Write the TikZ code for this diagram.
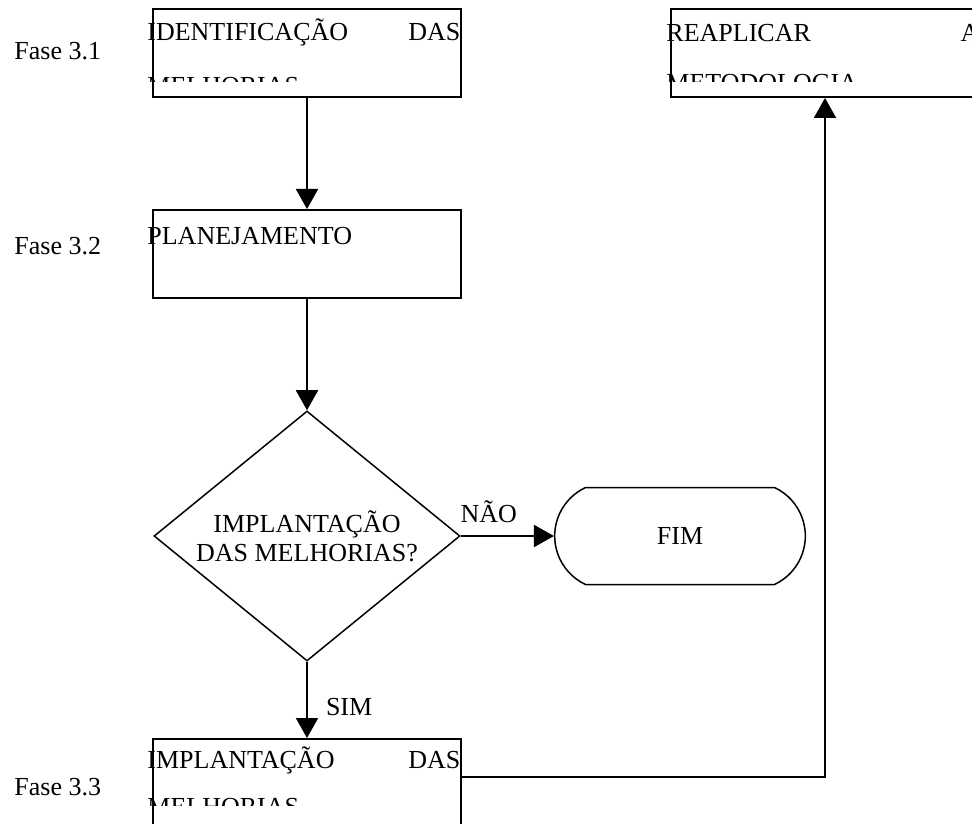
\documentclass[tikz,border=0pt]{standalone}
\usepackage{fontspec}
\setmainfont{Liberation Serif}
\usetikzlibrary{shapes.geometric,shapes.misc,arrows.meta}

\begin{document}
\begin{tikzpicture}[x=0.5pt,y=-0.5pt,
    font=\fontsize{13}{14.5}\selectfont,
    box/.style={draw,line width=1pt,minimum width=154pt,minimum height=44pt,inner sep=0pt},
    txt/.style={anchor=base west,inner sep=0pt},
    flow/.style={line width=1pt,-{Triangle[length=10pt,width=11pt]}}]
  \clip (0,0) rectangle (972,823);

  \node[box] (ident) at (307,53) {};
  \node[box] (plan) at (307,254) {};
  \node[diamond,draw,line width=0.75pt,shape aspect=1.22,minimum width=153pt,minimum height=125pt,
        inner sep=0pt,align=center] (dec) at (307,536) {IMPLANTAÇÃO\\DAS MELHORIAS?};
  \node[rounded rectangle,rounded rectangle arc length=130,draw,line width=0.75pt,
        minimum width=132pt,minimum height=48.5pt] (fim) at (680,536) {FIM};
  \node[box] (impl) at (307,783) {};
  \node[box] (reap) at (825,53) {};

  \begin{scope}
    \clip (140,0) rectangle (470,82);
    \node[txt] (identa) at (147,41) {\makebox[156.5pt][l]{IDENTIFICAÇÃO\hfill DAS}};
    \node[txt] (identb) at (147,95) {MELHORIAS};
  \end{scope}
  \node[txt] (plana) at (147,245) {PLANEJAMENTO};
  \begin{scope}
    \clip (140,740) rectangle (470,805);
    \node[txt] (impla) at (147,768) {\makebox[156.5pt][l]{IMPLANTAÇÃO\hfill DAS}};
    \node[txt] (implb) at (147,815) {MELHORIAS};
  \end{scope}
  \begin{scope}
    \clip (660,0) rectangle (980,82);
    \node[txt] (reapa) at (666,42) {\makebox[156.5pt][l]{REAPLICAR\hfill A}};
    \node[txt] (reapb) at (666,92) {METODOLOGIA};
  \end{scope}

  \node[txt] (f31) at (14,60) {Fase 3.1};
  \node[txt] (f32) at (14,255) {Fase 3.2};
  \node[txt] (f33) at (14,795) {Fase 3.3};

  \draw[flow] (ident) -- (plan);
  \draw[flow] (plan) -- (dec);
  \draw[flow] (dec.east) -- node[pos=0.3,above=6pt,inner sep=0pt] {NÃO} (fim.west);
  \draw[flow] (dec.south) -- node[pos=0.6,right=9pt,inner sep=0pt] {SIM} (impl.north);
  \draw[flow] ([yshift=3pt]impl.east) -| (reap.south);
\end{tikzpicture}
\end{document}
